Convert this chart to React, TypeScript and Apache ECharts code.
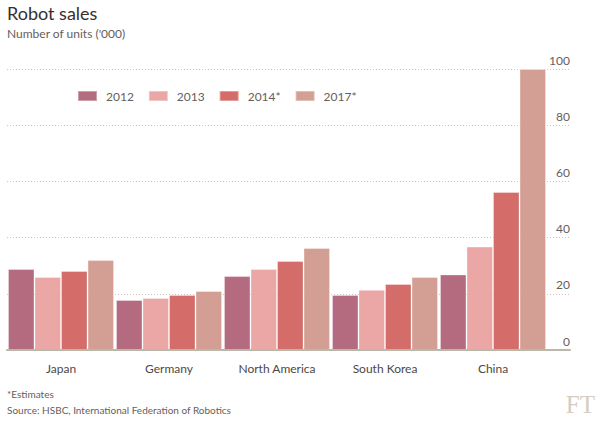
import React, { useEffect, useRef } from "react";
import * as echarts from "echarts";

const categories = ["Japan", "Germany", "North America", "South Korea", "China"];
const seriesNames = ["2012", "2013", "2014*", "2017*"];
const values2012 = [28.8, 17.8, 26.3, 19.6, 26.9];
const values2013 = [26.0, 18.5, 28.8, 21.4, 36.8];
const values2014 = [28.1, 19.6, 31.7, 23.5, 56.2];
const values2017 = [32.0, 21.0, 36.3, 26.0, 100];
const colors = ["#b46a7f", "#eaa7a6", "#d46c69", "#d39f94"];
const yTicks = [0, 20, 40, 60, 80, 100];

const FONT = "Lato, sans-serif";

export default function App() {
  const ref = useRef<HTMLDivElement>(null);
  useEffect(() => {
    if (!ref.current) return;
    const chart = echarts.init(ref.current, null, { renderer: "svg" });
    const allValues = [values2012, values2013, values2014, values2017];
    const top = 69;
    const bottom = 422 - 350;
    chart.setOption({
      animation: false,
      textStyle: { fontFamily: FONT },
      title: [
        {
          text: "Robot sales",
          left: 7,
          top: 3,
          padding: 0,
          textStyle: { fontFamily: FONT, fontSize: 18, lineHeight: 20, fontWeight: "normal", color: "#33302e" },
        },
        {
          text: "Number of units ('000)",
          left: 7,
          top: 27,
          padding: 0,
          textStyle: { fontFamily: FONT, fontSize: 12, fontWeight: "normal", color: "#66605c" },
        },
      ],
      legend: {
        data: seriesNames,
        left: 72,
        top: 85,
        itemWidth: 19,
        itemHeight: 10,
        itemGap: 14,
        icon: "rect",
        textStyle: { fontFamily: FONT, fontSize: 12, color: "#66605c", padding: [0, 0, 0, 4] },
      },
      grid: [
        { left: 7, right: 600 - 547, top, bottom, containLabel: false },
        { left: 7, right: 600 - 570, top, bottom, containLabel: false },
      ],
      xAxis: [
        {
          type: "category",
          gridIndex: 0,
          data: categories,
          axisLine: { show: false },
          axisTick: { show: false },
          axisLabel: { margin: 12, fontFamily: FONT, fontSize: 12, color: "#4d4845" },
        },
        {
          type: "category",
          gridIndex: 1,
          data: [""],
          axisLine: { show: true, lineStyle: { color: "#b9b9a9", width: 2 } },
          axisTick: { show: false },
          axisLabel: { show: false },
          z: 10,
        },
      ],
      yAxis: [
        {
          type: "value",
          gridIndex: 0,
          min: 0,
          max: 100,
          interval: 20,
          show: false,
          splitLine: { show: false },
        },
        {
          type: "value",
          gridIndex: 1,
          position: "right",
          min: yTicks[0],
          max: yTicks[yTicks.length - 1],
          interval: 20,
          axisLine: { show: false },
          axisTick: { show: false },
          splitLine: { show: true, lineStyle: { color: "#cdc5bb", type: [1, 2], width: 1 } },
          axisLabel: {
            inside: true,
            margin: 0,
            verticalAlign: "bottom",
            padding: [0, 0, 3, 0],
            fontFamily: FONT,
            fontSize: 12,
            color: "#66605c",
          },
        },
      ],
      series: seriesNames.map((name, i) => ({
        name,
        type: "bar",
        xAxisIndex: 0,
        yAxisIndex: 0,
        data: allValues[i],
        barGap: "0%",
        barCategoryGap: "1.8%",
        itemStyle: {
          color: colors[i],
          borderColor: "rgba(255,255,255,0.35)",
          borderWidth: 1,
        },
        z: 5,
      })),
      graphic: [
        {
          type: "text",
          left: 7,
          top: 389,
          style: { text: "*Estimates", font: `10px ${FONT}`, fill: "#66605c" },
        },
        {
          type: "text",
          left: 7,
          top: 405,
          style: {
            text: "Source: HSBC, International Federation of Robotics",
            font: `10px ${FONT}`,
            fill: "#66605c",
          },
        },
        {
          type: "text",
          right: 5,
          top: 392,
          style: { text: "FT", font: `25px 'Liberation Serif', serif`, fill: "#d6cdc1" },
        },
      ],
    });
    return () => chart.dispose();
  }, []);
  return (
    <div
      ref={ref}
      style={{ width: 600, height: 422, position: "absolute", left: 0, top: 0 }}
    />
  );
}
